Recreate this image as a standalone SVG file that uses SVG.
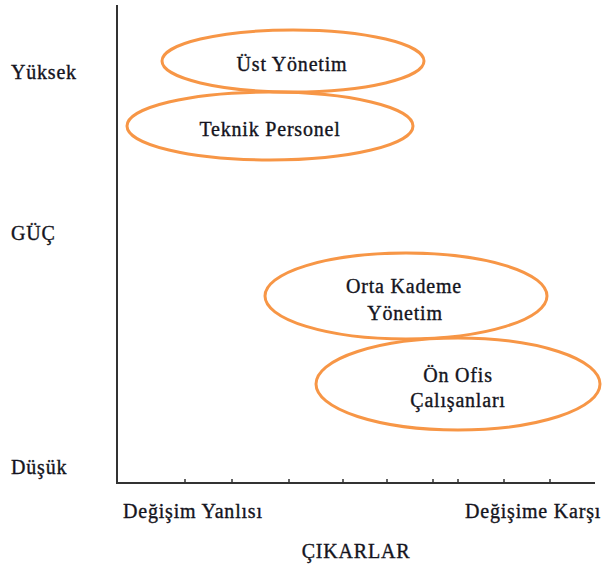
<svg xmlns="http://www.w3.org/2000/svg" width="609" height="569" viewBox="0 0 609 569">
<style>
.t{font-family:"Liberation Serif","Times New Roman",serif;font-size:20px;fill:#141420;stroke:#141420;stroke-width:0.35;letter-spacing:0.8px}
.c{text-anchor:middle}
.e{fill:none;stroke:#F79646;stroke-width:3}
.ax{stroke:#333;stroke-width:2;fill:none}
</style>
<rect width="609" height="569" fill="#fff"/>
<g id="axes">
<path class="ax" d="M117 5 V483 H595"/>
<path stroke="#333" stroke-width="1.5" d="M185 483v-4M232 483v-4M289 483v-4M343 483v-4M387 483v-4M433 483v-4M458 483v-4M504 483v-4M550 483v-4"/>
</g>
<g id="labels">
<text class="t" x="11" y="79">Yüksek</text>
<text class="t" x="11" y="240">GÜÇ</text>
<text class="t" x="11" y="474">Düşük</text>
<text class="t" x="123" y="518">Değişim Yanlısı</text>
<text class="t" x="465" y="518">Değişime Karşı</text>
<text class="t c" x="356" y="558">ÇIKARLAR</text>
</g>
<g id="connectors"></g>
<g id="ust-yonetim">
<ellipse class="e" cx="293" cy="61" rx="131" ry="31"/>
<text class="t c" x="292" y="71">Üst Yönetim</text>
</g>
<g id="teknik-personel">
<ellipse class="e" cx="270" cy="126" rx="143" ry="34"/>
<text class="t c" x="270" y="136">Teknik Personel</text>
</g>
<g id="orta-kademe">
<ellipse class="e" cx="406" cy="296" rx="141" ry="43"/>
<text class="t c" x="404" y="293">Orta Kademe</text>
<text class="t c" x="405" y="320">Yönetim</text>
</g>
<g id="on-ofis">
<ellipse class="e" cx="458" cy="384" rx="142" ry="46"/>
<text class="t c" x="458" y="382">Ön Ofis</text>
<text class="t c" x="458" y="407">Çalışanları</text>
</g>
</svg>
